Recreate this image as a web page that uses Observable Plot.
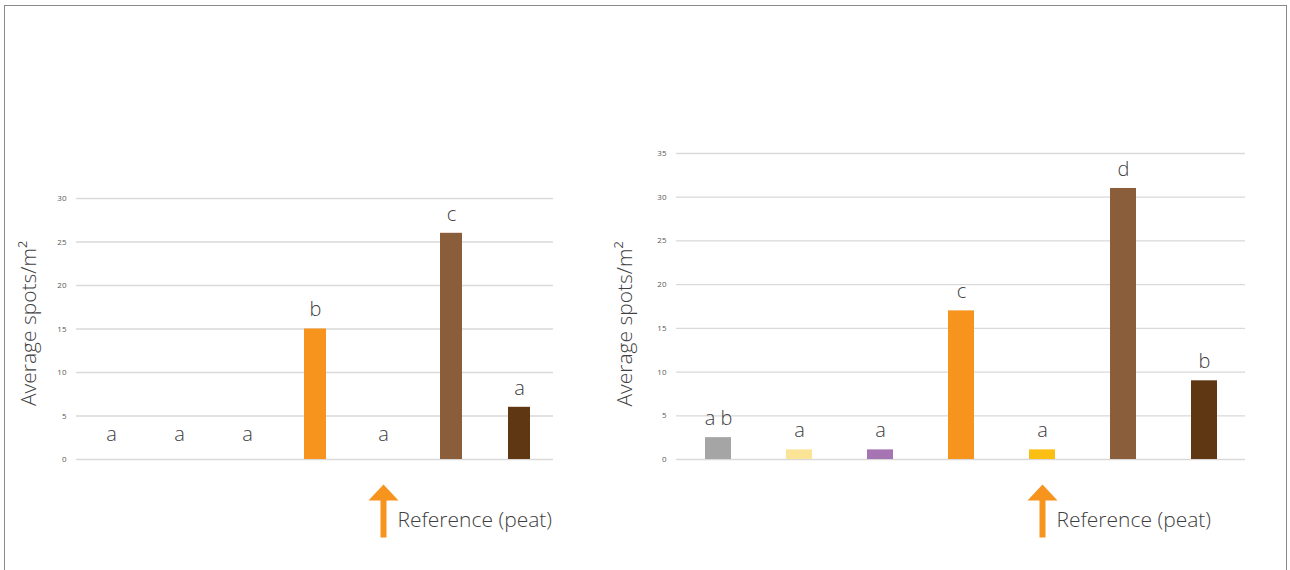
<!DOCTYPE html>
<html>
<head>
<meta charset="utf-8">
<script src="https://cdn.jsdelivr.net/npm/d3@7"></script>
<script src="https://cdn.jsdelivr.net/npm/@observablehq/plot@0.6"></script>
<style>
  html, body { margin: 0; padding: 0; background: #fff; }
  #page { position: relative; width: 1290px; height: 570px; overflow: hidden; }
  #frame {
    position: absolute; left: 4px; top: 5px; width: 1283px; height: 600px;
    border: 1.5px solid #8a8a8a; box-sizing: border-box;
  }
  .panel { position: absolute; top: 0; }
</style>
</head>
<body>
<div id="page">
  <div id="frame"></div>
  <div id="left" class="panel" style="left:0px"></div>
  <div id="right" class="panel" style="left:600px"></div>
</div>
<script>
// Treatments, in plotting order; "Peat" is the reference substrate.
const categories = ["S1", "S2", "S3", "S4", "Peat", "S5", "S6"];
const categoryColors = ["#a5a5a5", "#fbe496", "#a673b3", "#f7941d", "#fbbf14", "#8a5d3b", "#5f3813"];

// First trial
const leftValues = [0, 0, 0, 15, 0, 26, 6];
const leftLetters = ["a", "a", "a", "b", "a", "c", "a"];
const leftTicks = [0, 5, 10, 15, 20, 25, 30];

// Second trial
const rightValues = [2.5, 1.1, 1.1, 17, 1.1, 31, 9];
const rightLetters = ["a b", "a", "a", "c", "a", "d", "b"];
const rightTicks = [0, 5, 10, 15, 20, 25, 30, 35];

const referenceCategory = "Peat";
const referenceLabel = "Reference (peat)";
const yLabel = "Average spots/m²";

const textColor = "#404040";
const orange = "#f7941d";
const font = "'Open Sans', 'Noto Sans', sans-serif";

// Filled up-arrow drawn below the baseline, relative to the dot's anchor.
const arrowSymbol = {
  draw(context) {
    context.moveTo(0, 25);
    context.lineTo(15, 41);
    context.lineTo(3, 41);
    context.lineTo(3, 78);
    context.lineTo(-3, 78);
    context.lineTo(-3, 41);
    context.lineTo(-15, 41);
    context.closePath();
  }
};

function panel({values, letters, ticks, width, marginTop, marginRight, labelDx, labelDy}) {
  const rows = categories.map((category, i) => ({category, value: values[i], letter: letters[i]}));
  const letterStyle = {fontSize: 20, fill: textColor, fontWeight: 300, fontFamily: font};
  return Plot.plot({
    width,
    height: 560,
    marginLeft: 76,
    marginRight,
    marginTop,
    marginBottom: 101,
    style: {fontFamily: font, background: "transparent", overflow: "visible"},
    x: {domain: categories, paddingInner: 0.68, paddingOuter: 0.34, axis: null},
    y: {domain: [0, d3.max(ticks)], axis: null},
    color: {domain: categories, range: categoryColors},
    marks: [
      Plot.gridY(ticks, {stroke: "#d9d9d9", strokeOpacity: 1, strokeWidth: 1.3}),
      Plot.axisY(ticks, {tickSize: 0, tickPadding: 10, fontSize: 8, fill: "#595959", label: null}),
      Plot.barY(rows, {x: "category", y: "value", fill: "category"}),
      Plot.text(rows.filter(d => d.value > 0), {x: "category", y: "value", text: "letter", dy: -19, ...letterStyle}),
      Plot.text(rows.filter(d => d.value === 0), {x: "category", y: "value", text: "letter", dy: -25, ...letterStyle}),
      Plot.dot([referenceCategory], {x: d => d, y: () => 0, symbol: arrowSymbol, fill: orange, stroke: "none"}),
      Plot.text([referenceCategory], {
        x: d => d, y: () => 0, text: () => referenceLabel, textAnchor: "start",
        dx: 14, dy: 61, ...letterStyle, fontSize: 21
      }),
      Plot.text([yLabel], {
        text: d => d, frameAnchor: "left", textAnchor: "middle", rotate: -90,
        dx: labelDx, dy: labelDy, ...letterStyle, fontSize: 21
      })
    ]
  });
}

document.getElementById("left").append(panel({
  values: leftValues, letters: leftLetters, ticks: leftTicks,
  width: 600, marginTop: 198, marginRight: 47, labelDx: -47, labelDy: -5.5
}));
document.getElementById("right").append(panel({
  values: rightValues, letters: rightLetters, ticks: rightTicks,
  width: 690, marginTop: 153, marginRight: 45, labelDx: -51, labelDy: 17.5
}));
</script>
</body>
</html>
